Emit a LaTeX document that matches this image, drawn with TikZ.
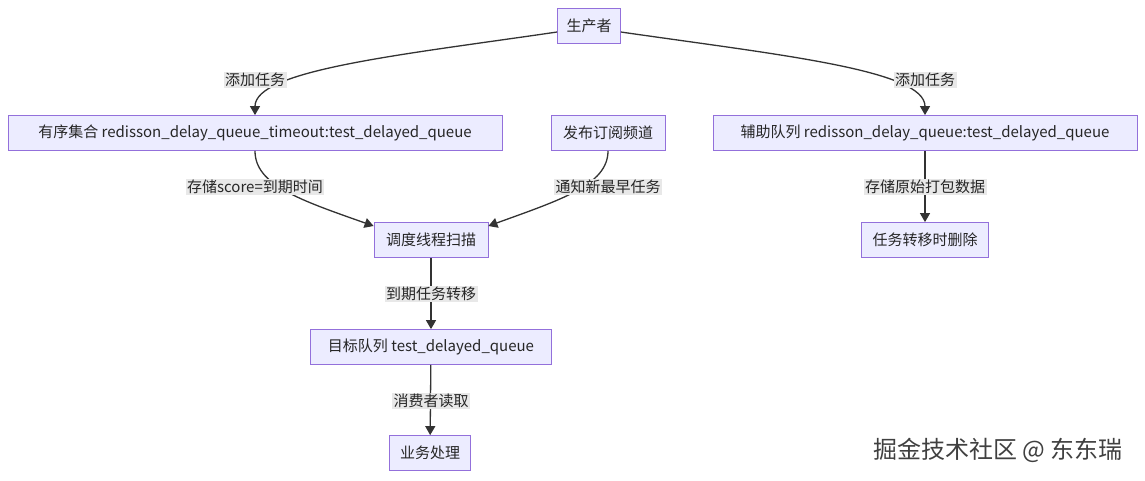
\documentclass[tikz,border=0pt]{standalone}
\usepackage{fontspec}
\setmainfont{Noto Sans CJK SC}
\usetikzlibrary{arrows.meta}
\definecolor{nfill}{HTML}{ECECFF}
\definecolor{nline}{HTML}{9370DB}
\definecolor{lbg}{HTML}{E8E8E8}
\begin{document}
\begin{tikzpicture}[x=1pt,y=-1pt,
  box/.style={draw=nline,fill=nfill,line width=0.8pt,minimum height=35pt,inner xsep=4pt,font=\fontsize{15}{17}\selectfont,text=black!85},
  lab/.style={fill=lbg,inner sep=1.5pt,font=\fontsize{15}{17}\selectfont,text=black!85},
  ar/.style={draw=black!80,line width=1.3pt,-{Triangle[length=9pt,width=10pt]}}]
\useasboundingbox (0,0) rectangle (1145,480);
\node[box,minimum width=63pt] (p) at (589,26) {生产者};
\node[box,minimum width=494pt] (z) at (255,133) {有序集合 redisson\_delay\_queue\_timeout:test\_delayed\_queue};
\node[box,minimum width=114pt] (f) at (608,133) {发布订阅频道};
\node[box,minimum width=424pt] (a) at (925,133) {辅助队列 redisson\_delay\_queue:test\_delayed\_queue};
\node[box,minimum width=114pt] (d) at (431,240) {调度线程扫描};
\node[box,minimum width=127pt] (r) at (925,240) {任务转移时删除};
\node[box,minimum width=241pt] (t) at (431,347) {目标队列 test\_delayed\_queue};
\node[box,minimum width=81pt] (b) at (430,453) {业务处理};
\node[text=black!75,font=\fontsize{24}{26}\selectfont] (w) at (998,450) {掘金技术社区 @ 东东瑞};

\draw[ar] (p.west|-0,32) .. controls (400,55) and (255,70) .. (z.north);
\draw[ar] (p.east|-0,32) .. controls (780,55) and (925,70) .. (a.north);
\node[lab] at (255,80) {添加任务};
\node[lab] at (925,80) {添加任务};
\draw[ar] (z.south) .. controls (255,185) and (300,200) .. (d.north west|-0,226);
\draw[ar] (f.south) .. controls (608,185) and (560,200) .. (d.north east|-0,226);
\node[lab] at (255,187) {存储score=到期时间};
\node[lab] at (608,187) {通知新最早任务};
\draw[ar] (a) -- (r);
\node[lab] at (925,187) {存储原始打包数据};
\draw[ar] (d) -- (t);
\node[lab] at (431,294) {到期任务转移};
\draw[ar] (t) -- (b);
\node[lab] at (431,401) {消费者读取};
\end{tikzpicture}
\end{document}
